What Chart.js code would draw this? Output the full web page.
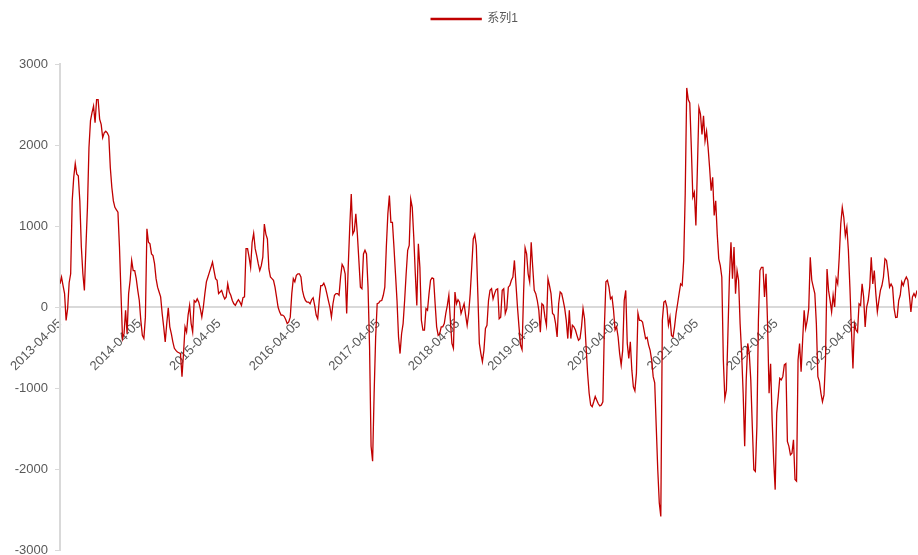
<!DOCTYPE html>
<html>
<head>
<meta charset="utf-8">
<script src="https://cdn.jsdelivr.net/npm/chart.js@4"></script>
<style>
  html, body { margin: 0; padding: 0; background: #ffffff; }
  #wrap { width: 918px; height: 555px; position: relative; }
</style>
</head>
<body>
<div id="wrap"><canvas id="chart"></canvas></div>
<script>
// Series name shown in the legend
const seriesName = '系列1';

// First week of the weekly series and the dates labelled on the time axis
const startDate = '2013-04-05';
const tickLabels = [
  '2013-04-05', '2014-04-05', '2015-04-05', '2016-04-05', '2017-04-05', '2018-04-05',
  '2019-04-05', '2020-04-05', '2021-04-05', '2022-04-05', '2023-04-05'
];

// Weekly values, one block per April-to-April year
const wk2013 = [287, 370, 265, 165, -165, -20, 300, 410, 1310, 1600, 1770, 1640, 1620, 1310, 740, 410, 205, 740, 1230, 1970,
  2300, 2400, 2480, 2275, 2560, 2560, 2320, 2255, 2090, 2150, 2170, 2150, 2110, 1720, 1475, 1310, 1230, 1200, 1170, 740,
  165, -390, -330, -40, -330, 165, 330, 575, 450, 450, 350, 205];
const wk2014 = [80, -165, -350, -390, -125, 965, 800, 780, 655, 635, 535, 350, 245, 185, 125, -80, -245, -430, -205, -10,
  -245, -330, -430, -510, -535, -555, -565, -575, -860, -575, -245, -310, -100, 20, -205, -310, 80, 60, 100, 60,
  -20, -125, 0, 165, 310, 370, 430, 490, 555, 450, 350, 330, 165];
const wk2015 = [185, 205, 145, 100, 125, 285, 185, 145, 80, 40, 20, 60, 90, 60, 20, 115, 125, 720, 720, 615,
  490, 800, 910, 720, 635, 535, 450, 510, 615, 1025, 900, 840, 470, 370, 350, 330, 245, 125, 0, -60,
  -100, -100, -115, -155, -205, -185, -125, 165, 350, 310, 390, 410];
const wk2016 = [410, 370, 205, 125, 80, 60, 60, 40, 90, 115, 20, -100, -145, 80, 265, 265, 295, 245, 165, 80,
  0, -125, 40, 145, 165, 165, 145, 370, 525, 490, 410, -80, 490, 985, 1395, 900, 940, 1150, 900, 575,
  245, 225, 655, 700, 655, 245, -490, -1720, -1905, -1065, -370, 40];
const wk2017 = [50, 75, 80, 145, 245, 740, 1150, 1375, 1045, 1045, 740, 410, 80, -370, -575, -330, -205, 80, 410, 700,
  760, 1330, 1230, 860, 410, 20, 780, 490, -165, -285, -285, -20, -40, 165, 330, 360, 350, 40, -245, -350,
  -330, -245, -245, -205, -80, 20, 145, -165, -450, -510, 185, 40, 90];
const wk2018 = [60, -80, -20, 40, -100, -225, -80, 165, 490, 840, 895, 760, 165, -450, -575, -675, -535, -265, -225, 80,
  205, 225, 100, 165, 215, 225, -145, -125, 205, 225, -80, -20, 245, 265, 330, 370, 575, 285, 0, -245,
  -470, -525, 165, 730, 655, 410, 310, 800, 490, 205, 165, 80];
const wk2019 = [-40, -310, 40, 20, -125, -225, 350, 265, 165, -80, -100, -205, -370, 40, 185, 165, 80, -20, -165, -390,
  -40, -390, -225, -245, -285, -350, -410, -390, -245, -20, -145, -490, -820, -1065, -1210, -1230, -1170, -1105, -1150, -1195,
  -1220, -1210, -1170, -245, 310, 330, 245, 100, 125, -40, -285, -245, -370];
const wk2020 = [-575, -715, -535, 80, 205, -450, -635, -430, -780, -985, -1035, -820, -75, -165, -165, -185, -285, -390, -375, -470,
  -535, -655, -860, -935, -1475, -2010, -2420, -2585, -165, 60, 75, 0, -225, -125, -350, -370, -245, -80, 40, 165,
  285, 265, 575, 1395, 2705, 2560, 2520, 1970, 1355, 1415, 1005, 1720, 2460];
const wk2021 = [2380, 2130, 2360, 2050, 2170, 1970, 1720, 1435, 1600, 1130, 1310, 900, 595, 510, 370, -655, -1130, -1025, -330, 370,
  800, 350, 740, 165, 450, 330, -205, -575, -1065, -1720, -900, -450, -575, -900, -1475, -2010, -2030, -1475, -165, 450,
  490, 490, 125, 410, -205, -1065, -700, -1395, -1885, -2255, -1310, -1105, -880];
const wk2022 = [-900, -860, -715, -700, -1660, -1720, -1825, -1805, -1640, -2130, -2150, -655, -450, -800, -410, -40, -265, -165, -20, 615,
  330, 245, 165, -205, -860, -920, -1065, -1170, -1085, -655, 470, 205, 80, -60, 145, 0, 350, 285, 615, 1025,
  1230, 1105, 880, 985, 700, 245, -285, -760, -205, -285, -310, 40];
const wk2023 = [20, 285, 125, -245, 0, 80, 245, 615, 285, 450, 165, -60, 80, 205, 265, 370, 595, 575, 430, 245,
  285, 245, -20, -130, -125, 80, 145, 310, 265, 330, 370, 330, 145, -60, 125, 165, 125, 205];

const values = [].concat(wk2013, wk2014, wk2015, wk2016, wk2017, wk2018,
  wk2019, wk2020, wk2021, wk2022, wk2023);

// Day numbers: the x axis runs in days since the first week
const DAY_MS = 86400000;
function dayNumber(iso) {
  const [y, m, d] = iso.split('-').map(Number);
  return Date.UTC(y, m - 1, d) / DAY_MS;
}
const day0 = dayNumber(startDate);
const points = values.map((v, i) => ({ x: i * 7, y: v }));

const FONT = "'Liberation Sans', Arial, 'Noto Sans CJK SC', sans-serif";
const TEXT = '#595959';
const AXIS = '#d9d9d9';
const RED = '#c00000';

// Leaves room between the legend and the plot, and centres the legend over the plot area
const legendPlacement = {
  id: 'legendPlacement',
  beforeInit(chart) {
    const fit = chart.legend.fit;
    chart.legend.fit = function () {
      fit.call(this);
      this.height += 29;
    };
  },
  afterLayout(chart) {
    const shift = 16;
    chart.legend.left += shift;
    chart.legend.right += shift;
  }
};

new Chart(document.getElementById('chart'), {
  type: 'line',
  data: {
    datasets: [{
      label: seriesName,
      data: points,
      borderColor: RED,
      backgroundColor: RED,
      borderWidth: 1.3,
      pointRadius: 0,
      tension: 0,
      fill: false
    }]
  },
  options: {
    responsive: true,
    maintainAspectRatio: false,
    animation: false,
    layout: { padding: { top: 3, left: 0, right: 1, bottom: 5 } },
    plugins: {
      legend: {
        position: 'top',
        labels: {
          boxWidth: 50,
          boxHeight: 1,
          color: TEXT,
          font: { size: 12, family: FONT }
        }
      },
      tooltip: { enabled: false }
    },
    scales: {
      x: {
        type: 'linear',
        position: { y: 0 },
        min: 0,
        max: (values.length - 1) * 7,
        grid: { display: false, drawTicks: false },
        border: { display: true, color: AXIS, width: 2 },
        afterBuildTicks(scale) {
          scale.ticks = tickLabels.map(t => ({ value: dayNumber(t) - day0 }));
        },
        ticks: {
          autoSkip: false,
          maxRotation: 45,
          minRotation: 45,
          padding: 9,
          color: TEXT,
          font: { size: 13, family: FONT },
          callback: (value, index) => tickLabels[index]
        }
      },
      y: {
        min: -3000,
        max: 3000,
        grid: { drawOnChartArea: false, tickLength: 5, color: AXIS },
        border: { display: true, color: AXIS, width: 2 },
        ticks: {
          stepSize: 1000,
          padding: 7,
          color: TEXT,
          font: { size: 13, family: FONT },
          callback: value => String(value)
        },
        afterFit(scale) {
          scale.width = 60;
          scale.paddingTop = 0;
          scale.paddingBottom = 0;
        }
      }
    }
  },
  plugins: [legendPlacement]
});
</script>
</body>
</html>
